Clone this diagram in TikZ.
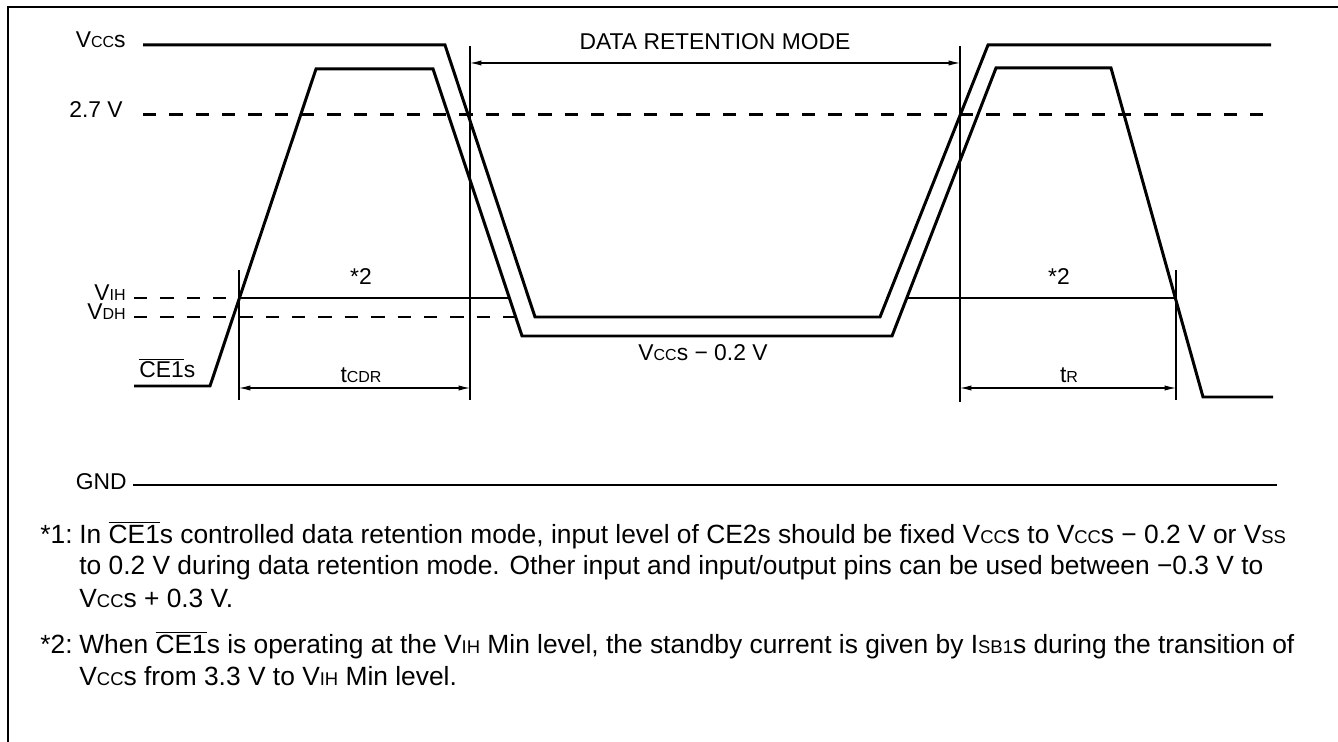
\documentclass[tikz,border=0pt]{standalone}
\usepackage{fontspec}
\setmainfont{Liberation Sans}
\usetikzlibrary{positioning}
\usetikzlibrary{arrows.meta}

\makeatletter
\newcommand{\lo}[1]{{\fontsize{\fpeval{0.7*\f@size}}{0}\selectfont #1}}
\makeatother
\newcommand{\ceone}{$\overline{\mbox{CE1}}$s}

\begin{document}
\begin{tikzpicture}[x=0.02cm, y=-0.02cm, font=\fontsize{13}{15}\selectfont]
    \tikzstyle{wave} = [draw, line width=1.7pt, line join=miter]
    \tikzstyle{level} = [draw, line width=1.7pt, dash pattern=on 7.6pt off 7.4pt]
    \tikzstyle{guide} = [draw, line width=0.6pt]
    \tikzstyle{dim} = [draw, line width=0.6pt, {Latex[length=6.5pt,width=3pt]}-{Latex[length=6.5pt,width=3pt]}]
    \tikzstyle{lbl} = [anchor=base east, inner sep=0pt]
    \tikzstyle{note} = [anchor=base west, inner sep=0pt, font=\fontsize{15}{17}\selectfont]
    \useasboundingbox (0,0) rectangle (1338,742);
    \draw[line width=1.6pt] (8,742) -- (8,7) -- (1338,7);
    % level names
    \node [lbl] (vccs) at (126,48) {V\lo{CC}s};
    \node [lbl] (v27) at (123,118) {2.7 V};
    \node [lbl] (vih) at (126,301) {V\lo{IH}};
    \node [lbl] (vdh) at (126,320) {V\lo{DH}};
    \node [lbl, anchor=base west] (ce) at (139,378) {\ceone};
    \node [lbl] (gnd) at (127,490) {GND};
    % reference levels
    \path [level] (143,115) -- (1276,115);
    \path [level] (134,298) -- (239,298);
    \path [level] (134,317) -- (520,317);
    \path [wave] (133,485) -- (1277,485);
    % waveforms
    \path [wave] (143,45) -- (445,45) -- (535,317) -- (880,317) -- (988,45) -- (1271,45);
    \path [wave] (134,386) -- (210,386) -- (316,69) -- (433,69) -- (522,336)
        -- (892,336) -- (996,68) -- (1111,68) -- (1203,397) -- (1273,397);
    \path [wave] (239,298) -- (509,298);
    \path [wave] (906,298) -- (1176,298);
    % timing marks
    \coordinate (c1) at (239,388);
    \coordinate (c2) at (470,388);
    \coordinate (c3) at (960,388);
    \coordinate (c4) at (1176,388);
    \coordinate (m1) at (470,63);
    \coordinate (m2) at (960,63);
    \path [guide] (239,270) -- (239,400);
    \path [guide] (470,46) -- (470,400);
    \path [guide] (960,46) -- (960,402);
    \path [guide] (1176,270) -- (1176,400);
    \path [dim] (c1) -- (c2);
    \path [dim] (c3) -- (c4);
    \path [dim] (m1) -- (m2);
    \node (drm) at (715,42) {DATA RETENTION MODE};
    \node (tcdr) at (361,375) {t\lo{CDR}};
    \node (tr) at (1069,375) {t\lo{R}};
    \node (n2a) at (361,277) {*2};
    \node (n2b) at (1059,277) {*2};
    \node (low) at (703,353) {V\lo{CC}s − 0.2 V};
    % notes
    \node [note] (k1) at (40,543) {*1:};
    \node [note] (k1a) at (79,543) {In \ceone{} controlled data retention mode, input level of CE2s should be fixed V\lo{CC}s to V\lo{CC}s − 0.2 V or V\lo{SS}};
    \node [note] (k1b) at (79,575) {to 0.2 V during data retention mode. Other input and input/output pins can be used between −0.3 V to};
    \node [note] (k1c) at (79,607) {V\lo{CC}s + 0.3 V.};
    \node [note] (k2) at (40,653) {*2:};
    \node [note] (k2a) at (79,653) {When \ceone{} is operating at the V\lo{IH} Min level, the standby current is given by I\lo{SB1}s during the transition of};
    \node [note] (k2b) at (79,685) {V\lo{CC}s from 3.3 V to V\lo{IH} Min level.};
\end{tikzpicture}
\end{document}
